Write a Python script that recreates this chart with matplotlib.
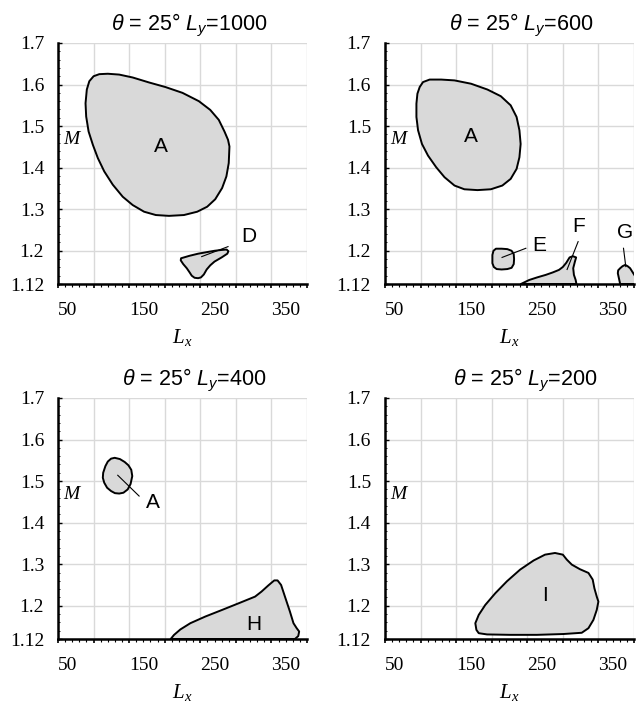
import matplotlib.pyplot as plt
import numpy as np

plt.rcParams['mathtext.fontset'] = 'custom'
plt.rcParams['mathtext.rm'] = 'Liberation Sans'
plt.rcParams['mathtext.it'] = 'Liberation Sans:italic'
plt.rcParams['mathtext.bf'] = 'Liberation Serif:italic'

# outlines of the regions (Lx, M)
# Ly = 1000
a1_x = [291, 290, 286.7, 280.7, 271, 259.7, 245.7, 227, 206, 187.5, 171, 155, 141, 127, 115, 106, 99, 93,
        89.6, 88.7, 90.5, 94, 100, 108, 120, 136, 155, 178, 201, 225, 248, 264, 276, 284, 289]
a1_y = [1.451, 1.411, 1.379, 1.351, 1.324, 1.306, 1.294, 1.286, 1.284, 1.286, 1.294, 1.31, 1.33, 1.359, 1.391,
        1.423, 1.455, 1.487, 1.523, 1.555, 1.588, 1.608, 1.62, 1.625, 1.626, 1.624, 1.617, 1.605, 1.594, 1.58,
        1.56, 1.539, 1.515, 1.487, 1.467]
d1_x = [223, 235, 247, 260, 270, 280, 287, 289.5, 288, 280, 270, 264, 259, 255, 251, 247, 242, 238, 235, 231, 226, 222.5]
d1_y = [1.182, 1.188, 1.193, 1.197, 1.2, 1.202, 1.203, 1.199, 1.193, 1.184, 1.174, 1.165, 1.155, 1.143, 1.136,
        1.134, 1.135, 1.14, 1.148, 1.158, 1.168, 1.177]
# Ly = 600
a2_x = [98.8, 103.5, 112.8, 129, 147.7, 171, 194, 212.8, 226.7, 235, 239, 240.7, 239, 235, 226.7, 215, 198.8,
        180, 161.6, 147.7, 133.7, 122, 110.5, 102, 96.5, 94.2, 94.2, 95.6]
a2_y = [1.594, 1.606, 1.612, 1.612, 1.61, 1.602, 1.588, 1.572, 1.55, 1.522, 1.49, 1.457, 1.425, 1.397, 1.373,
        1.357, 1.348, 1.346, 1.348, 1.357, 1.377, 1.401, 1.429, 1.457, 1.49, 1.522, 1.554, 1.578]
e2_x = [206, 214, 222, 228, 231, 231.5, 231, 228, 222, 214, 207, 203, 201, 201, 202.5]
e2_y = [1.205, 1.205, 1.204, 1.2, 1.192, 1.18, 1.168, 1.159, 1.156, 1.155, 1.156, 1.161, 1.17, 1.19, 1.2]
f2_x = [241, 252.7, 264, 276, 286, 294.6, 300, 304.8, 309.5, 314, 318.7, 317, 314.6, 315.6, 318, 318.7, 319]
f2_y = [1.12, 1.1297, 1.136, 1.142, 1.148, 1.154, 1.161, 1.171, 1.184, 1.187, 1.184, 1.174, 1.158, 1.142, 1.13, 1.124, 1.12]
g2_x = [380.6, 377.3, 377.8, 380.6, 384, 387.7, 391, 394.6, 399, 403, 403]
g2_y = [1.12, 1.146, 1.153, 1.158, 1.163, 1.166, 1.163, 1.158, 1.146, 1.135, 1.12]
# Ly = 400
a3_x = [129.7, 137, 143.7, 149, 153, 154.4, 152, 148, 142, 136, 130, 124.6, 119, 115, 113, 113.5, 116.6, 120, 124.6]
a3_y = [1.556, 1.553, 1.546, 1.538, 1.527, 1.512, 1.493, 1.48, 1.472, 1.47, 1.471, 1.476, 1.484, 1.496, 1.508,
        1.52, 1.536, 1.547, 1.554]
h3_x = [208.4, 213, 222, 236, 257, 280.7, 304, 327, 336, 345.7, 354, 358.6, 363.6, 369, 376, 381, 385.5, 389, 387.7, 383]
h3_y = [1.12, 1.1297, 1.143, 1.158, 1.174, 1.19, 1.206, 1.222, 1.234, 1.249, 1.261, 1.261, 1.25, 1.222, 1.186,
        1.158, 1.146, 1.138, 1.127, 1.12]
# Ly = 200
i4_x = [178.5, 177, 181.8, 191, 205, 221.5, 240, 259, 275, 289, 300, 305.6, 312.6, 324, 336, 342, 344.4, 347.7,
        350, 347.7, 343, 336, 326.6, 301, 263.6, 226, 193.5, 181.8]
i4_y = [1.142, 1.158, 1.178, 1.202, 1.23, 1.259, 1.287, 1.309, 1.323, 1.327, 1.323, 1.311, 1.299, 1.288, 1.279,
        1.263, 1.242, 1.222, 1.21, 1.19, 1.166, 1.146, 1.135, 1.132, 1.13, 1.13, 1.131, 1.134]

titles = ['$\\theta$ = 25° $L_y$=1000', '$\\theta$ = 25° $L_y$=600',
          '$\\theta$ = 25° $L_y$=400', '$\\theta$ = 25° $L_y$=200']

panels = [
    [(a1_x, a1_y), (d1_x, d1_y)],
    [(a2_x, a2_y), (e2_x, e2_y), (f2_x, f2_y), (g2_x, g2_y)],
    [(a3_x, a3_y), (h3_x, h3_y)],
    [(i4_x, i4_y)],
]

# labels: (text, label x, label y, leader line or None)
labels = [
    [('A', 195, 1.45, None), ('D', 318, 1.235, ((252, 289), (1.186, 1.21)))],
    [('A', 171, 1.474, None), ('E', 267, 1.213, ((214.6, 248), (1.184, 1.206))),
     ('F', 322, 1.258, ((306, 321.5), (1.155, 1.222))), ('G', 387.7, 1.244, ((388.5, 385.3), (1.162, 1.206)))],
    [('A', 184, 1.448, ((134, 164), (1.514, 1.464))), ('H', 325, 1.155, None)],
    [('I', 275, 1.225, None)],
]

fig = plt.figure(figsize=(6.36, 7.06), dpi=100)
boxes = [[0.0912, 0.5977, 0.3915, 0.3414], [0.6053, 0.5977, 0.3915, 0.3414],
         [0.0912, 0.0949, 0.3915, 0.3414], [0.6053, 0.0949, 0.3915, 0.3414]]
title_x = [0.528, 0.548, 0.546, 0.564]

for k in range(4):
    ax = fig.add_axes(boxes[k])
    for xs, ys in panels[k]:
        ax.fill(xs, ys, facecolor='#d9d9d9', edgecolor='black', lw=1.4, zorder=2, joinstyle='round')
    for txt, lx, ly, lead in labels[k]:
        ax.text(lx, ly, txt, fontsize=15, family='Liberation Sans', ha='center', va='center', zorder=4)
        if lead is not None:
            ax.plot(lead[0], lead[1], color='black', lw=0.8, zorder=3)
    ax.set_xlim(50, 400)
    ax.set_ylim(1.12, 1.7)
    ax.set_xticks(np.arange(50, 401, 50))
    ax.set_xticklabels(['50', '', '150', '', '250', '', '350', ''], ha='left',
                       family='Liberation Serif', fontsize=14)
    ax.set_xticks(np.arange(50, 401, 10), minor=True)
    ax.set_yticks([1.12, 1.2, 1.3, 1.4, 1.5, 1.6, 1.7])
    ax.set_yticklabels(['1.12', '1.2', '1.3', '1.4', '1.5', '1.6', '1.7'],
                       family='Liberation Serif', fontsize=14)
    ax.set_yticks(np.arange(1.12, 1.7, 0.02), minor=True)
    ax.tick_params(axis='x', which='major', direction='out', length=3, width=1.2, pad=10)
    ax.tick_params(axis='x', which='minor', direction='out', length=2, width=0.8)
    ax.tick_params(axis='y', which='major', direction='in', length=3, width=1.0, pad=10)
    ax.tick_params(axis='y', which='minor', direction='in', length=1.5, width=0.6)
    ax.grid(True, which='major', color='#d9d9d9', lw=1, zorder=0)
    ax.set_axisbelow(True)
    for s in ['top', 'right']:
        ax.spines[s].set_visible(False)
    for s in ['left', 'bottom']:
        ax.spines[s].set_linewidth(1.8)
    ax.set_title(titles[k], fontsize=15.5, family='Liberation Sans', pad=9, x=title_x[k])
    ax.set_xlabel('$\\mathbf{L_x}$', fontsize=15, labelpad=6)
    ax.text(69, 1.468, 'M', fontsize=14, family='Liberation Serif', style='italic',
            ha='center', va='center')

fig.savefig('out.png', dpi=100)
